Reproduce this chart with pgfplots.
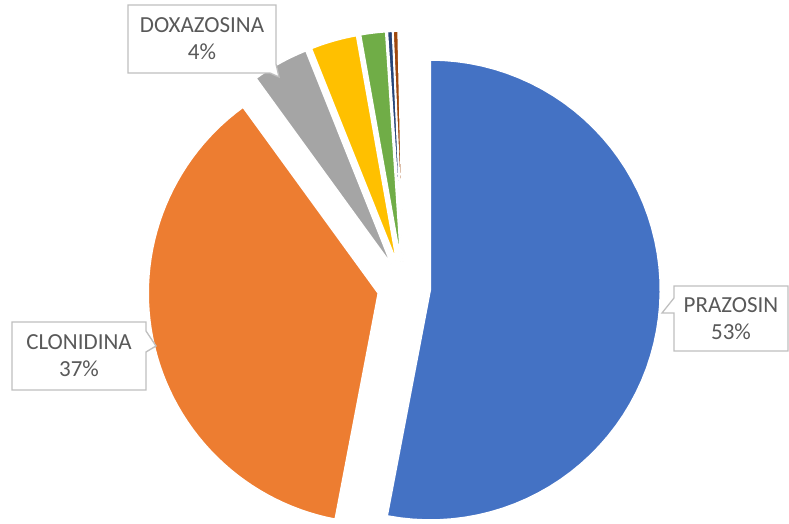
\documentclass[border=0pt]{standalone}
\usepackage{fontspec}
\setmainfont{Carlito}
\usepackage{pgfplots}
\pgfplotsset{compat=1.18}

\definecolor{sBlue}{HTML}{4472C4}
\definecolor{sOrange}{HTML}{ED7D31}
\definecolor{sGray}{HTML}{A5A5A5}
\definecolor{sGold}{HTML}{FFC000}
\definecolor{sGreen}{HTML}{70AD47}
\definecolor{sDkBlue}{HTML}{264478}
\definecolor{sDkOrange}{HTML}{9E480E}
\definecolor{lblText}{HTML}{595959}
\definecolor{lblLine}{HTML}{BFBFBF}

% pie geometry (pixel units, y downwards negated)
\def\cx{404}\def\cy{287.5}\def\rad{230}\def\expl{26.4}
\xdef\cum{0}
% #1 = share in percent, #2 = colour
\newcommand{\slice}[2]{%
  \pgfmathsetmacro\a{3.6*\cum}%
  \pgfmathsetmacro\b{3.6*(\cum+#1)}%
  \pgfmathsetmacro\m{(\a+\b)/2}%
  \pgfmathsetmacro\vx{\cx+\expl*sin(\m)}%
  \pgfmathsetmacro\vy{-\cy+\expl*cos(\m)}%
  \edef\doslice{\noexpand\addplot[fill=#2, draw=white, line width=1.5pt,
    domain=\a:\b, samples=60, variable=\noexpand\q]
    ({\vx+\rad*sin(\noexpand\q)}, {\vy+\rad*cos(\noexpand\q)})
    -- (axis cs:\vx,\vy) -- cycle;}%
  \doslice
  \pgfmathsetmacro\tmp{\cum+#1}\xdef\cum{\tmp}%
}

\begin{document}
\begin{tikzpicture}
\begin{axis}[
  scale only axis, width=789pt, height=524pt,
  xmin=0, xmax=789, ymin=-524, ymax=0,
  hide axis, clip=false,
]
  % shares (%), clockwise from 12 o'clock
  \slice{53}{sBlue}      % PRAZOSIN
  \slice{37}{sOrange}    % CLONIDINA
  \slice{3.95}{sGray}    % DOXAZOSINA
  \slice{3.25}{sGold}
  \slice{1.75}{sGreen}
  \slice{0.35}{sDkBlue}
  \slice{0.35}{sDkOrange}

  % data callouts
  \draw[lblLine, line width=1.3pt, fill=white]
    (axis cs:674,-286) -- (axis cs:788,-286) -- (axis cs:788,-351) -- (axis cs:674,-351)
    -- (axis cs:674,-313) -- (axis cs:662,-313) -- (axis cs:674,-298) -- cycle;
  \node[text=lblText, align=center, font=\fontsize{23}{27}\selectfont]
    at (axis cs:731,-318.5) {PRAZOSIN\\53\%};

  \draw[lblLine, line width=1.3pt, fill=white]
    (axis cs:12,-322) -- (axis cs:146,-322) -- (axis cs:146,-331) -- (axis cs:156,-346)
    -- (axis cs:146,-352) -- (axis cs:146,-390) -- (axis cs:12,-390) -- cycle;
  \node[text=lblText, align=center, font=\fontsize{23}{27}\selectfont]
    at (axis cs:79,-356) {CLONIDINA\\37\%};

  \draw[lblLine, line width=1.3pt, fill=white]
    (axis cs:128,-5) -- (axis cs:276,-5) -- (axis cs:276,-64) -- (axis cs:279,-77)
    -- (axis cs:270,-73) -- (axis cs:128,-73) -- cycle;
  \node[text=lblText, align=center, font=\fontsize{23}{27}\selectfont]
    at (axis cs:202,-39) {DOXAZOSINA\\4\%};
\end{axis}
\pgfresetboundingbox
\path[use as bounding box] (0,0) rectangle (789pt,524pt);
\end{tikzpicture}
\end{document}
